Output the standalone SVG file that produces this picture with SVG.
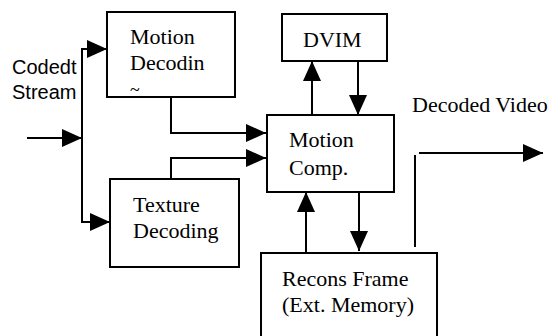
<svg xmlns="http://www.w3.org/2000/svg" width="556" height="336" viewBox="0 0 556 336">
<style>
.box{fill:#fff;stroke:#000;stroke-width:2}
.t{font-family:"Liberation Serif","Times New Roman",serif;font-size:22px;fill:#000}
.s{font-family:"Liberation Sans",Arial,sans-serif;font-size:20px;fill:#000}
.ln{fill:none;stroke:#000;stroke-width:2}
</style>
<defs>
<marker id="ah" viewBox="0 0 20 18" refX="20" refY="9" markerWidth="20" markerHeight="18" markerUnits="userSpaceOnUse" orient="auto">
<path d="M0,0 L20,9 L0,18 Z" fill="#000"/>
</marker>
</defs>
<rect width="556" height="336" fill="#fff"/>
<g id="connectors">
<line class="ln" x1="27" y1="138" x2="82" y2="138" marker-end="url(#ah)"/>
<line class="ln" x1="82" y1="49" x2="82" y2="223"/>
<line class="ln" x1="81" y1="49" x2="107" y2="49" marker-end="url(#ah)"/>
<line class="ln" x1="81" y1="222" x2="110" y2="222" marker-end="url(#ah)"/>
<polyline class="ln" points="171,97 171,133 266,133" marker-end="url(#ah)"/>
<polyline class="ln" points="171,179 171,158 266,158" marker-end="url(#ah)"/>
<line class="ln" x1="312" y1="115" x2="312" y2="61" marker-end="url(#ah)"/>
<line class="ln" x1="358" y1="61" x2="358" y2="115" marker-end="url(#ah)"/>
<line class="ln" x1="359" y1="192" x2="359" y2="251" marker-end="url(#ah)"/>
<line class="ln" x1="306" y1="257" x2="306" y2="192" marker-end="url(#ah)"/>
<line class="ln" x1="415" y1="155" x2="415" y2="247"/>
<line class="ln" x1="419" y1="153" x2="543" y2="153" marker-end="url(#ah)"/>
</g>
<g id="input-label">
<text class="s" x="12" y="74">Codedt</text>
<text class="s" x="12" y="99">Stream</text>
</g>
<g id="motion-decoding">
<rect class="box" x="107" y="12" width="128" height="85"/>
<text class="t" x="130" y="44">Motion</text>
<text class="t" x="130" y="70">Decodin</text>
<text class="t" x="130" y="96" style="font-size:18px">~</text>
</g>
<g id="texture-decoding">
<rect class="box" x="110" y="179" width="129" height="88"/>
<text class="t" x="133" y="212">Texture</text>
<text class="t" x="133" y="238">Decoding</text>
</g>
<g id="motion-comp">
<rect class="box" x="267" y="115" width="127" height="77"/>
<text class="t" x="289" y="147">Motion</text>
<text class="t" x="289" y="175">Comp.</text>
</g>
<g id="dvim">
<rect class="box" x="282" y="14" width="105" height="47"/>
<text class="t" x="303" y="47">DVIM</text>
</g>
<g id="recons-frame">
<rect class="box" x="261" y="253" width="176" height="100"/>
<text class="t" x="282" y="286">Recons Frame</text>
<text class="t" x="282" y="312">(Ext. Memory)</text>
</g>
<g id="output-label">
<text class="t" x="412" y="112">Decoded Video</text>
</g>
</svg>
